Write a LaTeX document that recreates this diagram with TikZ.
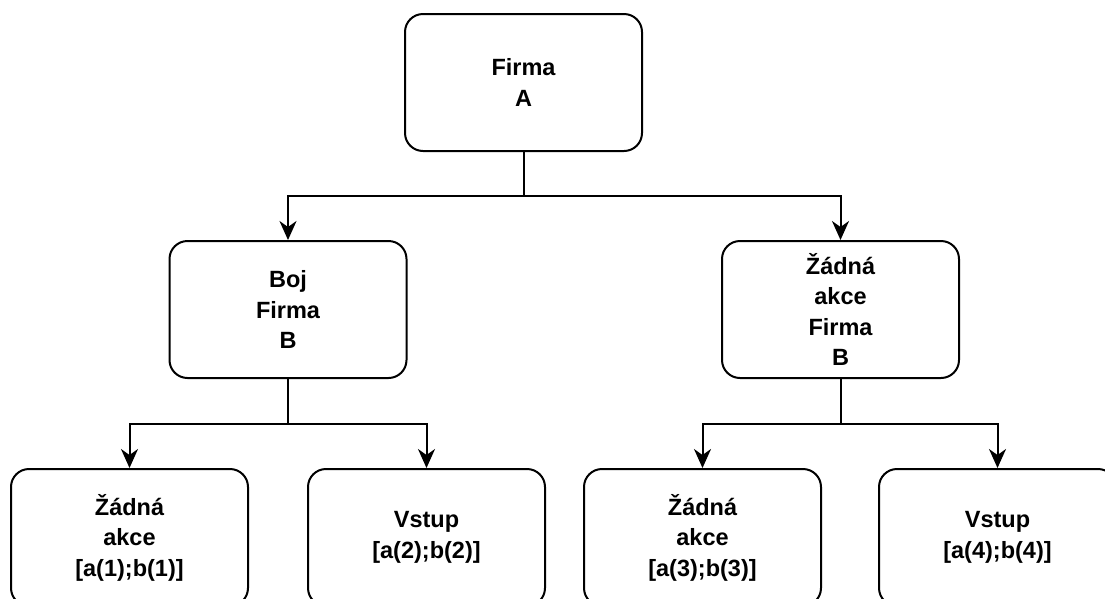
\documentclass[tikz,border=0pt]{standalone}
\usepackage{fontspec}
\setmainfont{Liberation Sans}
\usetikzlibrary{arrows.meta}
\begin{document}
\begin{tikzpicture}[x=1pt,y=-1pt,
  box/.style={draw=black,line width=2pt,rounded corners=18pt,minimum width=237pt,minimum height=137pt,
    align=center,font=\fontsize{23.5pt}{30.5pt}\selectfont\bfseries,inner sep=0pt,fill=white},
  conn/.style={draw=black,line width=2pt,-{Stealth[length=19pt,width=17pt,inset=6pt]}}]
\useasboundingbox (0,0) rectangle (1105,598);
\fill[white] (0,0) rectangle (1105,598);
\node[box] (A) at (523.5,82.5) {Firma\\A};
\node[box] (B1) at (288,309.5) {Boj\\Firma\\B};
\node[box] (B2) at (840.5,309.5) {Žádná\\akce\\Firma\\B};
\node[box] (C1) at (129.5,537.5) {Žádná\\akce\\{}{[}a(1);b(1){]}};
\node[box] (C2) at (426.5,537.5) {Vstup\\{}{[}a(2);b(2){]}};
\node[box] (C3) at (702.5,537.5) {Žádná\\akce\\{}{[}a(3);b(3){]}};
\node[box] (C4) at (997.5,537.5) {Vstup\\{}{[}a(4);b(4){]}};
\coordinate (jA) at (523.5,196);
\coordinate (jB1) at (288,424);
\coordinate (jB2) at (840.5,424);
\draw[conn] (A.south) -- (jA) -| (B1.north);
\draw[conn] (jA) -| (B2.north);
\draw[conn] (B1.south) -- (jB1) -| (C1.north);
\draw[conn] (jB1) -| (C2.north);
\draw[conn] (B2.south) -- (jB2) -| (C3.north);
\draw[conn] (jB2) -| (C4.north);
\end{tikzpicture}
\end{document}
